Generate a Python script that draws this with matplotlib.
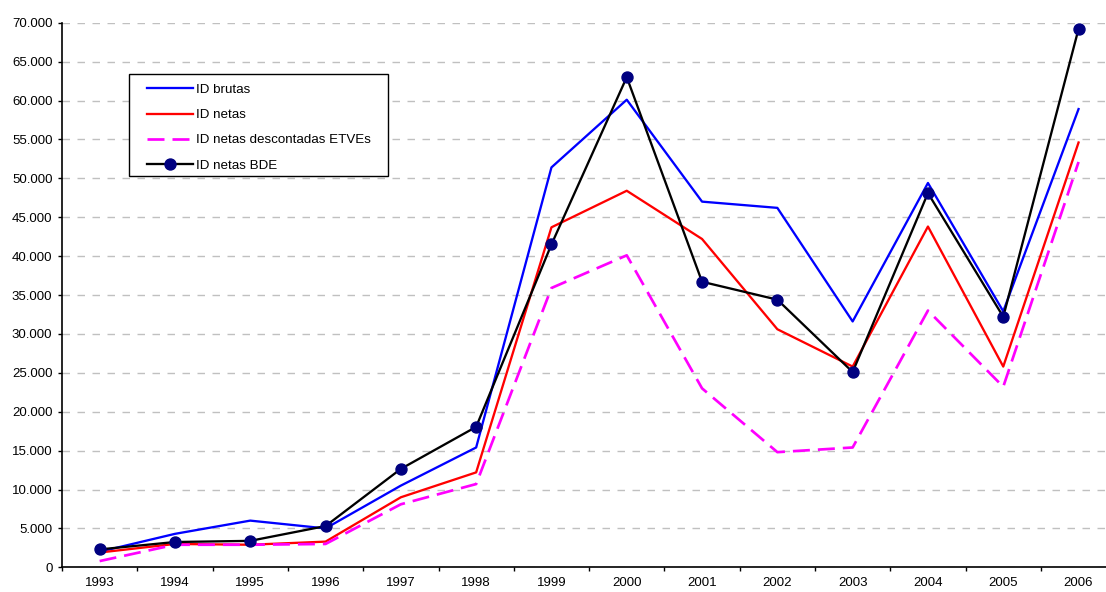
import matplotlib
matplotlib.use("Agg")
import matplotlib.pyplot as plt
from matplotlib.patches import Rectangle
from matplotlib.ticker import FuncFormatter, FixedLocator, NullFormatter

plt.rcParams['font.family'] = ['Liberation Sans', 'DejaVu Sans']
plt.rcParams['lines.scale_dashes'] = False

years = ['1993', '1994', '1995', '1996', '1997', '1998', '1999', '2000',
         '2001', '2002', '2003', '2004', '2005', '2006']
id_brutas = [2000, 4300, 6000, 5000, 10500, 15400, 51400, 60100,
             47000, 46200, 31600, 49400, 32900, 58900]
id_netas = [1900, 3000, 2900, 3300, 9000, 12200, 43700, 48400,
            42200, 30600, 25800, 43800, 25800, 54600]
id_netas_etve = [800, 2900, 2900, 3000, 8100, 10700, 35900, 40100,
                 23000, 14800, 15400, 33000, 23200, 52100]
id_netas_bde = [2300, 3250, 3400, 5300, 12650, 18050, 41500, 63000,
                36700, 34400, 25100, 48100, 32200, 69200]
series_names = ['ID brutas', 'ID netas', 'ID netas descontadas ETVEs', 'ID netas BDE']

W, H = 1106, 592
fig = plt.figure(figsize=(W / 100, H / 100), dpi=100)
left_px, right_px, top_px, bottom_px = 62, 62 + 14 * 75.3, 22.7, 567.3
ax = fig.add_axes([left_px / W, 1 - bottom_px / H,
                   (right_px - left_px) / W, (bottom_px - top_px) / H])

x = list(range(len(years)))
px = 0.72  # points per pixel at 100 dpi

ax.plot(x, id_brutas, color='#0000FF', lw=2.3 * px, label=series_names[0], zorder=3)
ax.plot(x, id_netas, color='#FF0000', lw=2.3 * px, label=series_names[1], zorder=4)
l3, = ax.plot(x, id_netas_etve, color='#FF00FF', lw=2.7 * px, label=series_names[2], zorder=5)
l3.set_dashes((17 * px, 8 * px))
ax.plot(x, id_netas_bde, color='#000000', lw=2.3 * px, marker='o', markersize=11 * px,
        markerfacecolor='#000080', markeredgecolor='#000080', label=series_names[3], zorder=6)

ax.set_xlim(-0.5, len(years) - 0.5)
ax.set_ylim(0, 70000)
ax.set_yticks(range(0, 70001, 5000))
ax.yaxis.set_major_formatter(FuncFormatter(lambda v, p: f"{int(v):,}".replace(',', '.')))

ax.xaxis.set_major_locator(FixedLocator([i - 0.5 for i in range(len(years) + 1)]))
ax.xaxis.set_major_formatter(NullFormatter())
ax.set_xticks(x, minor=True)
ax.set_xticklabels(years, minor=True)
ax.tick_params(axis='x', which='minor', length=0, pad=7, labelsize=9.5)
ax.tick_params(axis='x', which='major', length=4 * px, width=1, direction='out')
ax.tick_params(axis='y', length=4 * px, width=1, direction='out', pad=4, labelsize=9.5)

for s in ['top', 'right']:
    ax.spines[s].set_visible(False)
for s in ['left', 'bottom']:
    ax.spines[s].set_linewidth(1.2)
    ax.spines[s].set_color('black')

ax.grid(axis='y', color='#C0C0C0', lw=1.0, zorder=0)
for gl in ax.get_ygridlines():
    gl.set_dashes((7.5 * px, 7.5 * px))
ax.set_axisbelow(True)

# legend frame drawn separately to match the box size
leg_left, leg_top, leg_w, leg_h = 128.7, 74.3, 259.6, 101.7
ax.add_patch(Rectangle((leg_left / W, 1 - (leg_top + leg_h) / H), leg_w / W, leg_h / H,
                       transform=fig.transFigure, facecolor='white', clip_on=False,
                       edgecolor='black', lw=1.0, zorder=7))
leg = ax.legend(loc='upper left',
                bbox_to_anchor=(147 / W, 1 - 83.8 / H),
                bbox_transform=fig.transFigure,
                frameon=False, fontsize=9.6,
                handlelength=3.45, handletextpad=0.2,
                labelspacing=0.96, borderpad=0, borderaxespad=0)
leg.set_zorder(8)

fig.savefig('out.png', dpi=100)
